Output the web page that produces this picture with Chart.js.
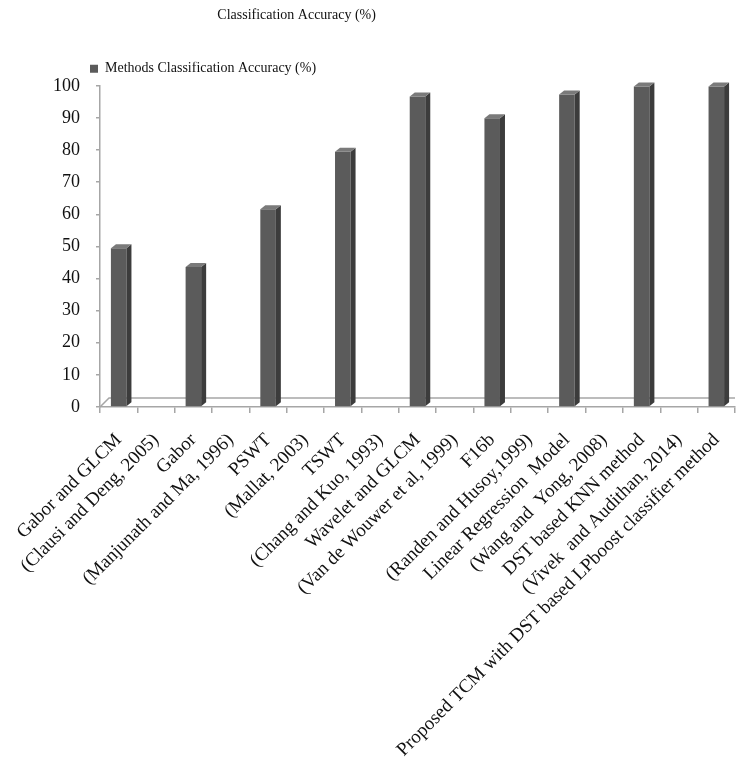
<!DOCTYPE html>
<html>
<head>
<meta charset="utf-8">
<script src="https://cdn.jsdelivr.net/npm/chart.js@4.4.1/dist/chart.umd.min.js"></script>
<style>
  html, body { margin: 0; padding: 0; background: #fff; }
  #wrap { width: 737px; height: 757px; }
</style>
</head>
<body>
<div id="wrap"><canvas id="accChart"></canvas></div>
<script>
// ===== Data =====
const methodLabels = [
    'Gabor and GLCM',
    '(Clausi and Deng, 2005)',
    'Gabor',
    '(Manjunath and Ma, 1996)',
    'PSWT',
    '(Mallat, 2003)',
    'TSWT',
    '(Chang and Kuo, 1993)',
    'Wavelet and GLCM',
    '(Van de Wouwer et al, 1999)',
    'F16b',
    '(Randen and Husoy,1999)',
    'Linear Regression  Model',
    '(Wang and  Yong, 2008)',
    'DST based KNN method',
    '(Vivek  and Audithan, 2014)',
    'Proposed TCM with DST based LPboost classifier method'
];

// citation rows carry no value
const accuracyValues = [49.4, null, 43.6, null, 61.6, null, 79.5, null, 96.7, null, 89.9, null, 97.3, null, 99.8, null, 99.8];

const yTicks = [0, 10, 20, 30, 40, 50, 60, 70, 80, 90, 100];

const serif = "'Liberation Serif', 'DejaVu Serif', serif";
const barFront = '#5b5b5b';
const barSide = '#3c3c3c';
const barTop = '#7a7a7a';
const axisGray = '#a6a6a6';

// ===== Pseudo 3D: side & top faces, back floor edge =====
const depth = 5;
const columnDepth = {
    id: 'columnDepth',
    beforeDatasetsDraw(chart) {
        const { ctx, chartArea } = chart;
        const d = 9;
        ctx.save();
        ctx.strokeStyle = axisGray;
        ctx.lineWidth = 1.5;
        ctx.beginPath();
        ctx.moveTo(chartArea.left, chartArea.bottom);
        ctx.lineTo(chartArea.left + d, chartArea.bottom - d);
        ctx.lineTo(chartArea.right, chartArea.bottom - d);
        ctx.stroke();
        ctx.restore();
    },
    afterDatasetsDraw(chart) {
        const { ctx } = chart;
        const meta = chart.getDatasetMeta(0);
        ctx.save();
        meta.data.forEach((bar, i) => {
            if (accuracyValues[i] == null) return;
            const { x, y, base, width } = bar.getProps(['x', 'y', 'base', 'width'], true);
            const left = x - width / 2;
            const right = x + width / 2;
            ctx.fillStyle = barSide;
            ctx.beginPath();
            ctx.moveTo(right, y);
            ctx.lineTo(right + depth, y - depth + 1);
            ctx.lineTo(right + depth, base - depth + 1);
            ctx.lineTo(right, base);
            ctx.closePath();
            ctx.fill();
            ctx.fillStyle = barTop;
            ctx.beginPath();
            ctx.moveTo(left, y);
            ctx.lineTo(left + depth, y - depth + 1);
            ctx.lineTo(right + depth, y - depth + 1);
            ctx.lineTo(right, y);
            ctx.closePath();
            ctx.fill();
        });
        ctx.restore();
    }
};

// title sits left of centre, legend starts just left of the value axis
const headerShift = {
    id: 'headerShift',
    afterLayout(chart) {
        if (chart.titleBlock) {
            chart.titleBlock.right = chart.titleBlock.left + chart.width * 0.805;
        }
        if (chart.legend) {
            chart.legend.left -= 10;
            chart.legend.right -= 10;
        }
    }
};

// ===== Bar Chart =====
const ctx = document.getElementById('accChart').getContext('2d');
new Chart(ctx, {
    type: 'bar',
    data: {
        labels: methodLabels,
        datasets: [{
            label: 'Methods Classification Accuracy (%)',
            data: accuracyValues,
            backgroundColor: barFront,
            borderWidth: 0,
            categoryPercentage: 0.8,
            barPercentage: 0.52
        }]
    },
    options: {
        responsive: true,
        maintainAspectRatio: false,
        animation: false,
        layout: { padding: { top: 6, right: 2, left: 0, bottom: 0 } },
        scales: {
            x: {
                afterFit: (axis) => {
                    axis.height = 350;
                    axis.paddingLeft = 0;
                    axis.paddingRight = 0;
                },
                grid: {
                    display: true,
                    drawOnChartArea: false,
                    color: axisGray,
                    tickLength: 6,
                    lineWidth: 1.5
                },
                border: { color: axisGray, width: 1.5 },
                ticks: {
                    autoSkip: false,
                    minRotation: 45,
                    maxRotation: 45,
                    padding: 16,
                    color: '#111',
                    font: { family: serif, size: 19 }
                }
            },
            y: {
                min: 0,
                max: 100,
                afterFit: (axis) => { axis.width = 100; },
                afterBuildTicks: (axis) => { axis.ticks = yTicks.map(v => ({ value: v })); },
                grid: {
                    drawOnChartArea: false,
                    color: axisGray,
                    tickLength: 4,
                    lineWidth: 1.5
                },
                border: { color: axisGray, width: 1.5 },
                ticks: {
                    color: '#111',
                    padding: 16,
                    font: { family: serif, size: 18 }
                }
            }
        },
        plugins: {
            title: {
                display: true,
                text: 'Classification Accuracy (%)',
                color: '#111',
                font: { family: serif, size: 14, weight: 'normal' },
                padding: { top: 1, bottom: 38 }
            },
            legend: {
                position: 'top',
                align: 'start',
                fullSize: false,
                labels: {
                    boxWidth: 8,
                    boxHeight: 8,
                    padding: 0,
                    color: '#111',
                    font: { family: serif, size: 14 }
                }
            },
            tooltip: { enabled: false }
        }
    },
    plugins: [columnDepth, headerShift]
});
</script>
</body>
</html>
